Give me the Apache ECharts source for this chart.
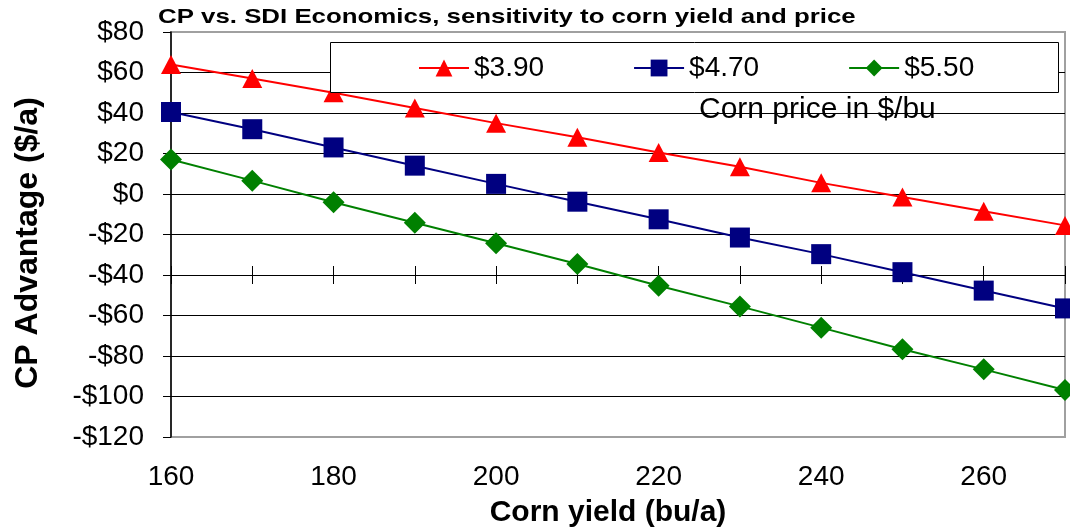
<!DOCTYPE html>
<html>
<head>
<meta charset="utf-8">
<script src="https://cdn.jsdelivr.net/npm/echarts@6/dist/echarts.min.js"></script>
<style>
html,body{margin:0;padding:0;background:#fff;}
#chart{width:1070px;height:529px;}
</style>
</head>
<body>
<div id="chart"></div>
<script>
// ---- data ----
const yields = [160, 170, 180, 190, 200, 210, 220, 230, 240, 250, 260, 270];
const seriesNames = ['$3.90', '$4.70', '$5.50'];
const price390 = [64, 57, 50, 42.5, 35, 28, 20.5, 13.5, 5.5, -1.5, -8.5, -15.5];
const price470 = [40.5, 32, 23, 14, 5, -3.8, -12.5, -21.5, -29.7, -38.6, -47.7, -56.5];
const price550 = [17, 6.6, -4.1, -14.2, -24.3, -34.6, -45.3, -55.5, -66, -76.7, -86.6, -96.8];
const xTickLabels = [160, 180, 200, 220, 240, 260];
const titleText = 'CP vs. SDI Economics, sensitivity to corn yield and price';
const xName = 'Corn yield (bu/a)';
const yName = 'CP Advantage ($/a)';
const legendNote = 'Corn price in $/bu';

const FONT = "'Liberation Sans', Arial, sans-serif";
const pair = (arr) => yields.map((x, i) => [x, arr[i]]);
const fmtMoney = (v) => v < 0 ? '-$' + Math.abs(v) : '$' + v;

const chart = echarts.init(document.getElementById('chart'), null, {renderer: 'canvas'});
const xBase = {type: 'value', min: 160, max: 270, interval: 10, splitLine: {show: false}, position: 'bottom'};

const option = {
  animation: false,
  backgroundColor: '#fff',
  grid: {
    left: 171, right: 5, top: 32, bottom: 92,
    show: true, borderColor: '#a0a0a0', borderWidth: 2, backgroundColor: 'transparent'
  },
  legend: {
    left: 413, top: 49, itemWidth: 50, itemHeight: 21, itemGap: 89, z: 20,
    data: seriesNames,
    textStyle: {fontFamily: FONT, fontSize: 28, color: '#000'}
  },
  graphic: [
    {type: 'text', x: 158, y: 17, scaleX: 1.23, z: 16,
     style: {text: titleText, font: 'bold 21px ' + FONT, fill: '#000', verticalAlign: 'middle', align: 'left'}},
    {type: 'rect', left: 330, top: 42, z: 15,
     shape: {width: 728, height: 50},
     style: {fill: '#fff', stroke: '#000', lineWidth: 1}},
    {type: 'text', x: 699, y: 110, z: 16,
     style: {text: legendNote, font: '30px ' + FONT, fill: '#000', verticalAlign: 'middle', align: 'left'}},
    {type: 'text', x: 28, y: 243, rotation: Math.PI / 2, z: 16,
     style: {text: yName, font: 'bold 32px ' + FONT, fill: '#000', align: 'center', verticalAlign: 'middle'}},
    {type: 'text', x: 608, y: 513, z: 16,
     style: {text: xName, font: 'bold 30px ' + FONT, fill: '#000', align: 'center', verticalAlign: 'middle'}}
  ],
  xAxis: [
    Object.assign({}, xBase, {
      axisLine: {show: false, onZero: false},
      axisTick: {show: false},
      axisLabel: {
        margin: 26, fontFamily: FONT, fontSize: 28, color: '#000',
        formatter: (v) => xTickLabels.indexOf(v) >= 0 ? String(v) : ''
      }
    }),
    Object.assign({}, xBase, {
      axisLine: {show: true, onZero: true, onZeroAxisIndex: 1, lineStyle: {color: '#000', width: 1}},
      axisTick: {show: true, inside: true, length: 9, lineStyle: {color: '#000', width: 1}},
      axisLabel: {show: false}
    }),
    Object.assign({}, xBase, {
      axisLine: {show: false, onZero: true, onZeroAxisIndex: 1},
      axisTick: {show: true, inside: false, length: 9, lineStyle: {color: '#000', width: 1}},
      axisLabel: {show: false}
    })
  ],
  yAxis: [
    {
      type: 'value', min: -120, max: 80, interval: 20, position: 'left',
      axisLine: {show: true, onZero: false, lineStyle: {color: '#000', width: 1.5}},
      axisTick: {show: true, length: 8, lineStyle: {color: '#000', width: 1}},
      axisLabel: {margin: 27, fontFamily: FONT, fontSize: 28, color: '#000', formatter: fmtMoney},
      splitLine: {show: true, showMinLine: false, showMaxLine: false, lineStyle: {color: '#000', width: 1}}
    },
    {
      type: 'value', min: -80, max: 120, interval: 20, show: false, position: 'right',
      splitLine: {show: false}
    }
  ],
  series: [
    {name: seriesNames[0], type: 'line', xAxisIndex: 0, yAxisIndex: 0, data: pair(price390),
     symbol: 'triangle', symbolSize: [20, 19], color: '#FF0000',
     lineStyle: {color: '#FF0000', width: 2}, itemStyle: {color: '#FF0000'}, z: 3},
    {name: seriesNames[1], type: 'line', xAxisIndex: 0, yAxisIndex: 0, data: pair(price470),
     symbol: 'rect', symbolSize: 20, color: '#000080',
     lineStyle: {color: '#000080', width: 2}, itemStyle: {color: '#000080'}, z: 3},
    {name: seriesNames[2], type: 'line', xAxisIndex: 0, yAxisIndex: 0, data: pair(price550),
     symbol: 'diamond', symbolSize: 22, color: '#008000',
     lineStyle: {color: '#008000', width: 2}, itemStyle: {color: '#008000'}, z: 3}
  ]
};
chart.setOption(option);
</script>
</body>
</html>
